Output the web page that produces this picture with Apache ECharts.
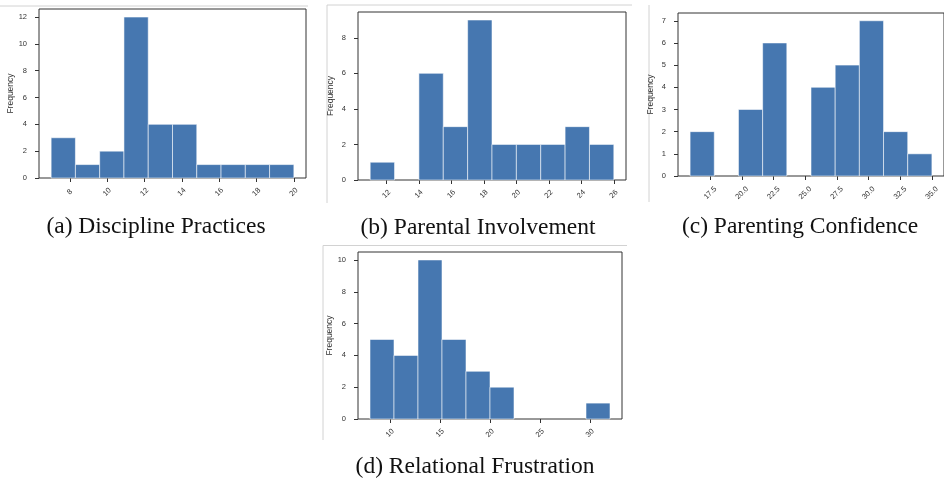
<!DOCTYPE html>
<html lang="en">
<head>
<meta charset="UTF-8" />
<title>Score histograms</title>
<script src="https://cdn.jsdelivr.net/npm/echarts@6.0.0/dist/echarts.min.js"></script>
<style>
  html, body { margin: 0; padding: 0; background: #fff; }
  #chart { width: 944px; height: 481px; }
</style>
</head>
<body>
<div id="chart"></div>
<script>
// bin edges + counts
var disciplineEdges = [7, 8.3, 9.6, 10.9, 12.2, 13.5, 14.8, 16.1, 17.4, 18.7, 20];
var disciplineCounts = [3, 1, 2, 12, 4, 4, 1, 1, 1, 1];
var disciplineXTicks = [8, 10, 12, 14, 16, 18, 20];
var disciplineYTicks = [0, 2, 4, 6, 8, 10, 12];

var involvementEdges = [11, 12.5, 14, 15.5, 17, 18.5, 20, 21.5, 23, 24.5, 26];
var involvementCounts = [1, 0, 6, 3, 9, 2, 2, 2, 3, 2];
var involvementXTicks = [12, 14, 16, 18, 20, 22, 24, 26];
var involvementYTicks = [0, 2, 4, 6, 8];

var confidenceEdges = [15.9, 17.81, 19.72, 21.63, 23.54, 25.45, 27.36, 29.27, 31.18, 33.09, 35];
var confidenceCounts = [2, 0, 3, 6, 0, 4, 5, 7, 2, 1];
var confidenceXTicks = [17.5, 20.0, 22.5, 25.0, 27.5, 30.0, 32.5, 35.0];
var confidenceYTicks = [0, 1, 2, 3, 4, 5, 6, 7];

var frustrationEdges = [8, 10.4, 12.8, 15.2, 17.6, 20, 22.4, 24.8, 27.2, 29.6, 32];
var frustrationCounts = [5, 4, 10, 5, 3, 2, 0, 0, 0, 1];
var frustrationXTicks = [10, 15, 20, 25, 30];
var frustrationYTicks = [0, 2, 4, 6, 8, 10];

var captions = [
  "(a) Discipline Practices",
  "(b) Parental Involvement",
  "(c) Parenting Confidence",
  "(d) Relational Frustration"
];

var BAR = "#4677b0";
var INK = "#333333";
var SANS = "Liberation Sans";

// layout of the four panels (pixel boxes + axis limits)
var panels = [
  { edges: disciplineEdges, counts: disciplineCounts, xTicks: disciplineXTicks, yTicks: disciplineYTicks,
    xMin: 6.35, xMax: 20.65, yMax: 12.6, box: [39, 9, 267, 169], xMargin: 14, decimals: 0 },
  { edges: involvementEdges, counts: involvementCounts, xTicks: involvementXTicks, yTicks: involvementYTicks,
    xMin: 10.25, xMax: 26.75, yMax: 9.45, box: [358, 12, 268, 168], xMargin: 14, decimals: 0 },
  { edges: confidenceEdges, counts: confidenceCounts, xTicks: confidenceXTicks, yTicks: confidenceYTicks,
    xMin: 14.945, xMax: 35.955, yMax: 7.35, box: [678, 13, 268, 163], xMargin: 17, decimals: 1 },
  { edges: frustrationEdges, counts: frustrationCounts, xTicks: frustrationXTicks, yTicks: frustrationYTicks,
    xMin: 6.8, xMax: 33.2, yMax: 10.5, box: [358, 252, 264, 167], xMargin: 14, decimals: 0 }
];

var captionPos = [[156, 226.5], [478, 227.5], [800, 226.5], [475, 467]];

var chart = echarts.init(document.getElementById("chart"));

var grids = [], xAxes = [], yAxes = [], series = [];
panels.forEach(function (p, i) {
  grids.push({
    left: p.box[0], top: p.box[1], width: p.box[2], height: p.box[3],
    show: true, borderColor: INK, borderWidth: 1, backgroundColor: "transparent"
  });
  xAxes.push({
    type: "value", gridIndex: i, min: p.xMin, max: p.xMax,
    axisLine: { show: false },
    splitLine: { show: false },
    axisTick: { show: true, customValues: p.xTicks, length: 4, lineStyle: { color: INK } },
    axisLabel: {
      customValues: p.xTicks, rotate: 45, align: "center", verticalAlign: "middle",
      margin: p.xMargin, fontSize: 7.5, fontFamily: SANS, color: INK,
      formatter: function (v) { return Number(v).toFixed(p.decimals); }
    }
  });
  yAxes.push({
    type: "value", gridIndex: i, min: 0, max: p.yMax,
    name: "Frequency", nameLocation: "middle", nameGap: 23,
    nameTextStyle: { fontSize: 8.5, fontFamily: SANS, color: INK },
    axisLine: { show: false },
    splitLine: { show: false },
    axisTick: { show: true, customValues: p.yTicks, length: 4, lineStyle: { color: INK } },
    axisLabel: { customValues: p.yTicks, margin: 12, fontSize: 7.5, fontFamily: SANS, color: INK }
  });
  series.push({
    type: "custom", xAxisIndex: i, yAxisIndex: i, silent: true,
    data: p.counts.map(function (c, k) { return [p.edges[k], p.edges[k + 1], c]; }),
    encode: { x: [0, 1], y: 2 },
    renderItem: function (params, api) {
      if (api.value(2) === 0) return null;
      var a = api.coord([api.value(0), api.value(2)]);
      var b = api.coord([api.value(1), 0]);
      return {
        type: "rect",
        shape: { x: a[0], y: a[1], width: b[0] - a[0], height: b[1] - a[1] },
        style: { fill: BAR, stroke: "rgba(255,255,255,0.55)", lineWidth: 1 }
      };
    }
  });
});

// captions and the faint crop lines around the pasted figures
var graphics = captions.map(function (t, i) {
  return {
    type: "text", x: captionPos[i][0], y: captionPos[i][1],
    style: { text: t, font: '23.5px "Liberation Serif"', fill: "#111", align: "center", verticalAlign: "middle" }
  };
});
var cropLines = [
  [0, 6, 308, 6], [327, 5, 632, 5], [327, 5, 327, 203],
  [649, 5, 649, 202], [323, 245.5, 627, 245.5], [323, 245.5, 323, 440]
];
cropLines.forEach(function (l) {
  graphics.push({ type: "line", shape: { x1: l[0], y1: l[1], x2: l[2], y2: l[3] },
    style: { stroke: "#d2d2d2", lineWidth: 1 } });
});

chart.setOption({
  animation: false,
  grid: grids,
  xAxis: xAxes,
  yAxis: yAxes,
  series: series,
  graphic: graphics
});
</script>
</body>
</html>
